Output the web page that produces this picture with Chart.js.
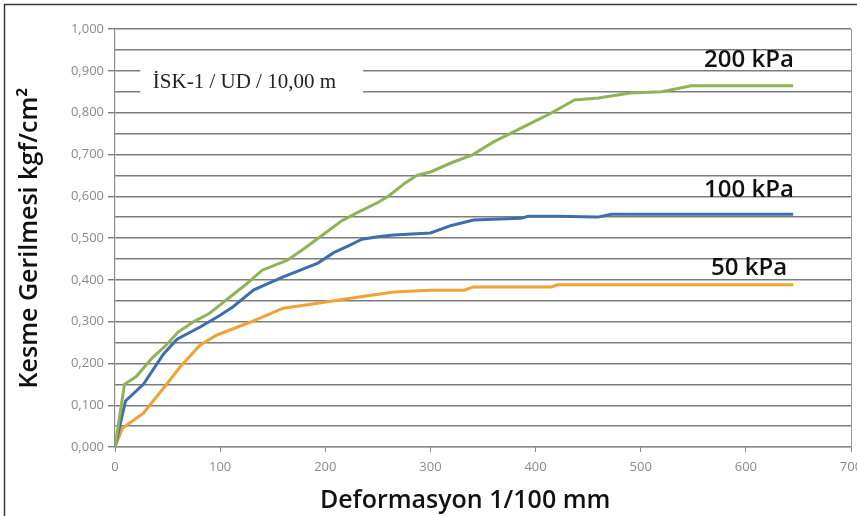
<!DOCTYPE html>
<html>
<head>
<meta charset="utf-8">
<script src="https://cdn.jsdelivr.net/npm/chart.js@4/dist/chart.umd.min.js"></script>
<style>
  html, body { margin: 0; padding: 0; background: #fff; overflow: hidden; }
  #wrap { position: absolute; left: 0; top: 0; width: 880px; height: 516px; }
</style>
</head>
<body>
<div id="wrap"><canvas id="shearChart"></canvas></div>
<script>
// deformation (1/100 mm) and shear stress (kgf/cm2) per normal load
var def200 = [0, 9, 20, 35, 50, 60, 75, 90, 100, 110, 125, 140, 164, 180, 200, 215, 230, 250, 260, 275, 287, 300, 320, 340, 360, 380, 400, 415, 437, 460, 490, 520, 548, 580, 610, 645];
var tau200 = [0, 0.150, 0.168, 0.212, 0.247, 0.275, 0.300, 0.320, 0.340, 0.360, 0.390, 0.423, 0.447, 0.475, 0.512, 0.540, 0.560, 0.585, 0.600, 0.630, 0.650, 0.658, 0.680, 0.699, 0.730, 0.755, 0.780, 0.799, 0.830, 0.835, 0.847, 0.850, 0.864, 0.864, 0.864, 0.864];

var def100 = [0, 10, 27, 46, 59, 81, 100, 112, 132, 160, 193, 208, 221, 235, 250, 265, 300, 320, 341, 360, 386, 393, 420, 459, 472, 520, 580, 645];
var tau100 = [0, 0.110, 0.150, 0.222, 0.258, 0.287, 0.315, 0.335, 0.376, 0.407, 0.440, 0.465, 0.480, 0.497, 0.503, 0.507, 0.512, 0.530, 0.543, 0.545, 0.547, 0.552, 0.552, 0.550, 0.557, 0.557, 0.557, 0.557];

var def50 = [0, 7, 27, 50, 62, 81, 97, 129, 160, 193, 224, 265, 300, 332, 341, 415, 421, 500, 580, 645];
var tau50 = [0, 0.045, 0.081, 0.153, 0.192, 0.244, 0.268, 0.299, 0.332, 0.344, 0.356, 0.371, 0.375, 0.375, 0.383, 0.383, 0.388, 0.388, 0.388, 0.388];

var seriesNames = ["200 kPa", "100 kPa", "50 kPa"];
var seriesColors = ["#8fb356", "#3f6ead", "#f0a232"];
var labelPos = [[603, 0.926], [603, 0.615], [603, 0.428]];
var boxText = "İSK-1 / UD / 10,00 m";
var xTitle = "Deformasyon 1/100 mm";

function pairs(xs, ys) {
    var out = [];
    for (var i = 0; i < xs.length; i++) out.push({x: xs[i], y: ys[i]});
    return out;
}

function isMajor(v) {
    return Math.round(v * 1000) % 100 === 0;
}

var overlay = {
    id: 'overlay',
    afterDatasetsDraw: function (chart) {
        var ctx = chart.ctx;
        var xs = chart.scales.x, ys = chart.scales.y;
        var area = chart.chartArea;
        ctx.save();
        // plot right border
        ctx.strokeStyle = '#9a9a9a';
        ctx.lineWidth = 1;
        ctx.beginPath();
        ctx.moveTo(area.right + 0.5, area.top);
        ctx.lineTo(area.right + 0.5, area.bottom);
        ctx.stroke();

        // sample label box
        var bx = xs.getPixelForValue(24), bx2 = xs.getPixelForValue(236);
        var by = ys.getPixelForValue(0.94), by2 = ys.getPixelForValue(0.83);
        ctx.fillStyle = '#fff';
        ctx.fillRect(bx, by, bx2 - bx, by2 - by);
        ctx.fillStyle = '#222';
        ctx.font = '21px "Liberation Serif", "DejaVu Serif", serif';
        ctx.textBaseline = 'alphabetic';
        ctx.textAlign = 'left';
        ctx.fillText(boxText, xs.getPixelForValue(36), ys.getPixelForValue(0.858));

        // load labels
        ctx.font = '600 24px "Open Sans", sans-serif';
        ctx.textBaseline = 'middle';
        ctx.textAlign = 'center';
        ctx.fillStyle = '#111';
        for (var i = 0; i < seriesNames.length; i++) {
            ctx.fillText(seriesNames[i], xs.getPixelForValue(labelPos[i][0]), ys.getPixelForValue(labelPos[i][1]));
        }

        // x axis title
        ctx.font = '600 25px "Open Sans", sans-serif';
        ctx.textBaseline = 'alphabetic';
        ctx.fillText(xTitle, xs.getPixelForValue(333), 508);

        // outer frame
        ctx.strokeStyle = '#3a3a3a';
        ctx.lineWidth = 1.5;
        ctx.strokeRect(4.5, 4.5, 1000, 1000);
        ctx.restore();
    }
};

var chartElement = document.getElementById('shearChart').getContext('2d');
var chartObject = new Chart(chartElement, {
    type: 'line',
    data: {
        datasets: [
            {label: seriesNames[0], data: pairs(def200, tau200), borderColor: seriesColors[0], backgroundColor: seriesColors[0]},
            {label: seriesNames[1], data: pairs(def100, tau100), borderColor: seriesColors[1], backgroundColor: seriesColors[1]},
            {label: seriesNames[2], data: pairs(def50, tau50), borderColor: seriesColors[2], backgroundColor: seriesColors[2]}
        ]
    },
    options: {
        responsive: true,
        maintainAspectRatio: false,
        animation: false,
        layout: {padding: {top: 29, right: 29, left: 0, bottom: 0}},
        elements: {
            line: {borderWidth: 3, tension: 0},
            point: {radius: 0}
        },
        plugins: {legend: {display: false}, tooltip: {enabled: false}},
        scales: {
            x: {
                type: 'linear',
                min: 0, max: 700,
                afterFit: function (scale) { scale.height = 69; },
                ticks: {stepSize: 100, color: '#8a8a8a', padding: 7, font: {family: '"Open Sans", sans-serif', size: 13}, maxRotation: 0},
                grid: {display: true, drawOnChartArea: false, tickLength: 5, tickColor: '#8c8c8c'},
                border: {display: true, color: '#8c8c8c', width: 1.2}
            },
            y: {
                min: 0, max: 1,
                afterFit: function (scale) { scale.width = 115; },
                ticks: {
                    stepSize: 0.05,
                    autoSkip: false,
                    color: '#8a8a8a',
                    padding: 4,
                    font: {family: '"Open Sans", sans-serif', size: 13},
                    callback: function (v) { return isMajor(v) ? v.toFixed(3).replace('.', ',') : ''; }
                },
                grid: {
                    color: '#7c7c7c',
                    lineWidth: 1.4,
                    tickLength: 7,
                    tickColor: function (c) { return c.tick && isMajor(c.tick.value) ? '#7c7c7c' : 'rgba(0,0,0,0)'; }
                },
                border: {display: true, color: '#8c8c8c', width: 1.2},
                title: {
                    display: true,
                    text: 'Kesme Gerilmesi kgf/cm²',
                    color: '#111',
                    font: {family: '"Open Sans", sans-serif', size: 25, weight: '600'},
                    padding: {top: 15, bottom: 0}
                }
            }
        }
    },
    plugins: [overlay]
});
chartObject.update();
</script>
</body>
</html>
